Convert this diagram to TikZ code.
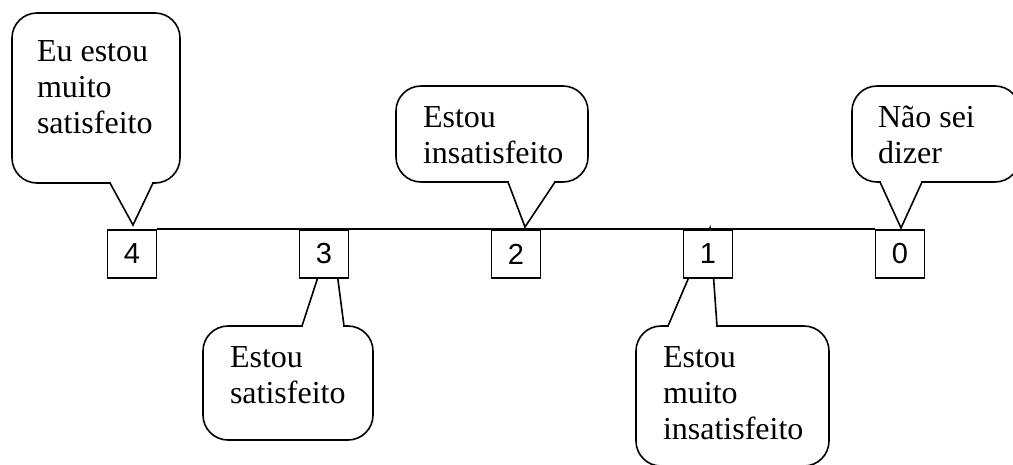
\documentclass[tikz,border=0pt]{standalone}
\usepackage{fontspec}
\setmainfont{Liberation Serif}
\newfontfamily\digitfont{Liberation Sans}
\tikzset{
  bubble/.style={draw, rounded corners=25pt, inner sep=0pt},
  saying/.style={anchor=base west, inner sep=0pt, align=left, font=\fontsize{32}{36}\selectfont},
  numbox/.style={draw, fill=white, minimum width=49pt, minimum height=48pt, inner sep=0pt, font=\digitfont\fontsize{29}{29}\selectfont},
}
\begin{document}
\begin{tikzpicture}[x=1pt, y=-1pt, line width=1.6pt]
	\useasboundingbox (0,0) rectangle (1013,464);
	% callouts
	\node[bubble, minimum width=168pt, minimum height=170pt] (c4) at (96,98) {};
	\node[bubble, minimum width=192pt, minimum height=96pt] (c2) at (492,134) {};
	\node[bubble, minimum width=168pt, minimum height=96pt] (c0) at (936,134) {};
	\node[bubble, minimum width=170pt, minimum height=114pt] (c3) at (288,383) {};
	\node[bubble, minimum width=193pt, minimum height=140pt] (c1) at (732.5,396) {};
	% base anchor sits on the last line
	\node[saying] (t4) at ([shift={(25,121)}]c4.north west) {Eu estou\\muito\\satisfeito};
	\node[saying] (t2) at ([shift={(27,78)}]c2.north west) {Estou\\insatisfeito};
	\node[saying] (t0) at ([shift={(26,78)}]c0.north west) {Não sei\\dizer};
	\node[saying] (t3) at ([shift={(27,78)}]c3.north west) {Estou\\satisfeito};
	\node[saying] (t1) at ([shift={(27,114)}]c1.north west) {Estou\\muito\\insatisfeito};
	% pointers
	\coordinate (a4) at (110,183); \coordinate (tip4) at (133,225); \coordinate (b4) at (153,183);
	\coordinate (a2) at (508,182); \coordinate (tip2) at (525,227); \coordinate (b2) at (555,182);
	\coordinate (a0) at (880,182); \coordinate (tip0) at (901,228); \coordinate (b0) at (922,182);
	\coordinate (a3) at (302,326); \coordinate (tip3) at (332,234); \coordinate (b3) at (344,326);
	\coordinate (a1) at (668,326); \coordinate (tip1) at (710,228); \coordinate (b1) at (717,326);
	\foreach \k in {4,2,0,3,1} {
		\fill[white] ([xshift=1pt,yshift=-1.5pt]a\k) rectangle ([xshift=-1pt,yshift=1.5pt]b\k);
		\draw (a\k) -- (tip\k) -- (b\k);
	}
	% scale
	\node[numbox] (n4) at (132,254) {4};
	\node[numbox] (n3) at (324,254) {3};
	\node[numbox] (n2) at (516,254) {2};
	\node[numbox] (n1) at (708,254) {1};
	\node[numbox] (n0) at (900,254) {0};
	\draw (n4.north east) -- (n0.north west);
\end{tikzpicture}
\end{document}
